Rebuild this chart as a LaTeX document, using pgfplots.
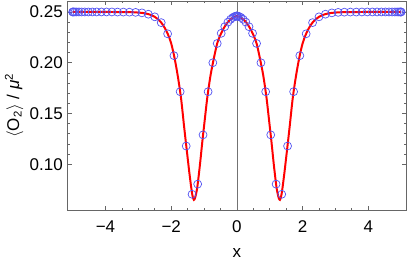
\documentclass[border=0pt]{standalone}
\usepackage{fontspec}
\setmainfont{Liberation Sans}
\usepackage{pgfplots}
\pgfplotsset{compat=1.18}
\definecolor{mk}{rgb}{0.33,0.33,0.95}
\pgfplotstableread{
x y
-5.0000 0.2500
-4.5000 0.2500
-4.0000 0.2500
-3.5000 0.2499
-3.2000 0.2498
-3.0000 0.2494
-2.8000 0.2487
-2.6000 0.2469
-2.5000 0.2452
-2.4000 0.2428
-2.3000 0.2394
-2.2000 0.2345
-2.1000 0.2280
-2.0000 0.2190
-1.9000 0.2050
-1.8000 0.1870
-1.7000 0.1650
-1.6000 0.1350
-1.5000 0.1065
-1.4500 0.0925
-1.4000 0.0795
-1.3600 0.0705
-1.3300 0.0665
-1.3100 0.0650
-1.2900 0.0655
-1.2600 0.0685
-1.2200 0.0745
-1.1800 0.0840
-1.1200 0.1010
-1.0500 0.1230
-1.0000 0.1375
-0.9000 0.1660
-0.8000 0.1880
-0.7000 0.2045
-0.6000 0.2190
-0.5000 0.2275
-0.4000 0.2340
-0.3000 0.2390
-0.2000 0.2425
-0.1000 0.2450
0.0000 0.2460
0.1000 0.2450
0.2000 0.2425
0.3000 0.2390
0.4000 0.2340
0.5000 0.2275
0.6000 0.2190
0.7000 0.2045
0.8000 0.1880
0.9000 0.1660
1.0000 0.1375
1.0500 0.1230
1.1200 0.1010
1.1800 0.0840
1.2200 0.0745
1.2600 0.0685
1.2900 0.0655
1.3100 0.0650
1.3300 0.0665
1.3600 0.0705
1.4000 0.0795
1.4500 0.0925
1.5000 0.1065
1.6000 0.1350
1.7000 0.1650
1.8000 0.1870
1.9000 0.2050
2.0000 0.2190
2.1000 0.2280
2.2000 0.2345
2.3000 0.2394
2.4000 0.2428
2.5000 0.2452
2.6000 0.2469
2.8000 0.2487
3.0000 0.2494
3.2000 0.2498
3.5000 0.2499
4.0000 0.2500
4.5000 0.2500
5.0000 0.2500
}\curvedata
\pgfplotstableread{
x y
-5.0000 0.2500
-4.9923 0.2500
-4.9692 0.2500
-4.9309 0.2500
-4.8776 0.2500
-4.8097 0.2500
-4.7275 0.2500
-4.6316 0.2500
-4.5225 0.2500
-4.4010 0.2500
-4.2678 0.2500
-4.1236 0.2500
-3.9695 0.2500
-3.8062 0.2500
-3.6350 0.2499
-3.4567 0.2499
-3.2725 0.2498
-3.0836 0.2496
-2.8911 0.2491
-2.6961 0.2478
-2.5000 0.2452
-2.3039 0.2395
-2.1089 0.2285
-1.9164 0.2070
-1.7275 0.1715
-1.5433 0.1180
-1.3650 0.0705
-1.1938 0.0805
-1.0305 0.1290
-0.8764 0.1715
-0.7322 0.2000
-0.5990 0.2190
-0.4775 0.2290
-0.3684 0.2355
-0.2725 0.2400
-0.1903 0.2428
-0.1224 0.2446
-0.0691 0.2455
-0.0308 0.2459
-0.0077 0.2460
0.0000 0.2460
0.0077 0.2460
0.0308 0.2459
0.0691 0.2455
0.1224 0.2446
0.1903 0.2428
0.2725 0.2400
0.3684 0.2355
0.4775 0.2290
0.5990 0.2190
0.7322 0.2000
0.8764 0.1715
1.0305 0.1290
1.1938 0.0805
1.3650 0.0705
1.5433 0.1180
1.7275 0.1715
1.9164 0.2070
2.1089 0.2285
2.3039 0.2395
2.5000 0.2452
2.6961 0.2478
2.8911 0.2491
3.0836 0.2496
3.2725 0.2498
3.4567 0.2499
3.6350 0.2499
3.8062 0.2500
3.9695 0.2500
4.1236 0.2500
4.2678 0.2500
4.4010 0.2500
4.5225 0.2500
4.6316 0.2500
4.7275 0.2500
4.8097 0.2500
4.8776 0.2500
4.9309 0.2500
4.9692 0.2500
4.9923 0.2500
5.0000 0.2500
}\markdata
\begin{document}
\begin{tikzpicture}
\begin{axis}[
  scale only axis, width=238.7pt, height=147.7pt,
  xmin=-5.15, xmax=5.15, ymin=0.0547, ymax=0.2608,
  axis line style={black!60, line width=0.5pt},
  every tick/.style={black!60, line width=0.5pt},
  major tick length=2.8pt, minor tick length=1.7pt,
  tick align=inside,
  xtick={-4,-2,0,2,4}, xticklabels={−4,−2,0,2,4},
  minor x tick num=3,
  ytick={0.10,0.15,0.20,0.25},
  minor y tick num=4,
  y tick label style={/pgf/number format/fixed, /pgf/number format/fixed zerofill, /pgf/number format/precision=2, /pgf/number format/assume math mode=true},
  tick label style={font=\fontsize{12}{14}\selectfont, black},
  x tick label style={yshift=-4pt},
  label style={font=\fontsize{12}{14}\selectfont},
  xlabel={x},
  xlabel style={at={(axis description cs:0.5,-0.2234)}, anchor=base},
  ylabel={\(\langle\)O\textsubscript{2}\(\rangle\) / \textit{μ}\textsuperscript{2}},
  ylabel style={at={(axis description cs:-0.144,0.5)}, anchor=base},
  clip=true,
]
\addplot[black!55, line width=0.5pt, forget plot] coordinates {(0,0.0547) (0,0.2608)};
\addplot[red, line width=1.4pt, smooth] table[x=x, y=y] {\curvedata};
\addplot[only marks, mark=o, mark size=2.8pt, mark options={mk, line width=0.5pt}] table[x=x, y=y] {\markdata};
\end{axis}
\pgfresetboundingbox
\path[use as bounding box] (-47.8pt,-36.5pt) rectangle (240.8pt,148.4pt);
\end{tikzpicture}
\end{document}
